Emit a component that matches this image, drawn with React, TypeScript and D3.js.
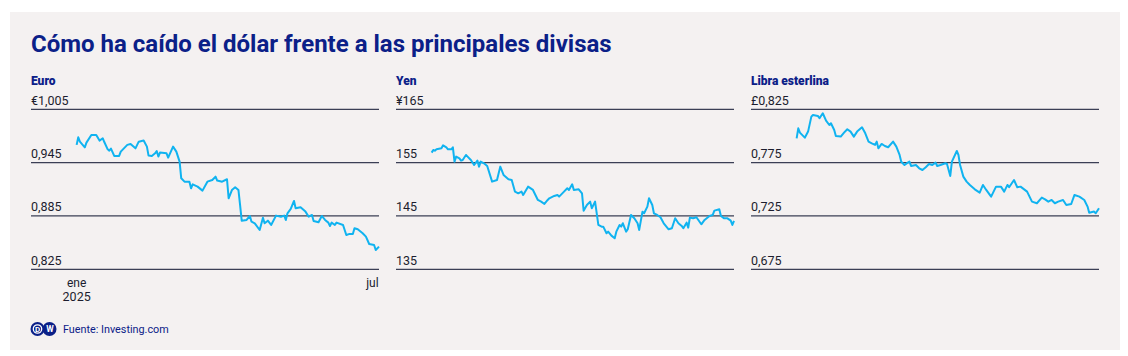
import React from "react";
import * as d3 from "d3";

const W = 1128;
const H = 356;

const titleText = "Cómo ha caído el dólar frente a las principales divisas";
const sourceText = "Fuente: Investing.com";

const panelNames = ["Euro", "Yen", "Libra esterlina"];
const panelLefts = [31, 396, 751];
const panelRights = [379, 734, 1099];

const euroTicks = [0.825, 0.885, 0.945, 1.005];
const yenTicks = [135, 145, 155, 165];
const gbpTicks = [0.675, 0.725, 0.775, 0.825];

const euroTickLabels = ["0,825", "0,885", "0,945", "€1,005"];
const yenTickLabels = ["135", "145", "155", "¥165"];
const gbpTickLabels = ["0,675", "0,725", "0,775", "£0,825"];

// days since 1 Jan 2025
const euroDays = [0, 1, 2, 5, 6, 9, 12, 14, 16, 17, 19, 20, 21, 23, 26, 27, 31, 33, 36, 38, 41, 43, 44, 46, 48, 49, 50, 51, 55, 56, 59, 61, 63, 64, 66, 69, 70, 71, 74, 77, 80, 83, 85, 86, 89, 92, 93, 95, 97, 99, 100, 101, 104, 106, 107, 109, 112, 114, 115, 117, 119, 122, 125, 127, 128, 129, 131, 133, 134, 137, 140, 142, 144, 145, 148, 150, 152, 154, 155, 156, 158, 159, 163, 165, 167, 169, 170, 172, 175, 177, 179, 182, 183, 185];
const euroValues = [0.965, 0.9735, 0.9686, 0.9622, 0.9675, 0.9761, 0.9761, 0.9698, 0.9724, 0.9679, 0.96, 0.9585, 0.9608, 0.9525, 0.9525, 0.9574, 0.965, 0.966, 0.9611, 0.9686, 0.9698, 0.963, 0.9529, 0.9525, 0.9555, 0.9581, 0.9518, 0.9563, 0.9555, 0.9506, 0.963, 0.9574, 0.9461, 0.9274, 0.9236, 0.9236, 0.9161, 0.9206, 0.918, 0.9135, 0.9236, 0.9255, 0.9292, 0.9248, 0.9236, 0.9263, 0.9049, 0.9142, 0.9172, 0.9142, 0.8974, 0.8797, 0.8805, 0.885, 0.8786, 0.8767, 0.8692, 0.8831, 0.8767, 0.8797, 0.8749, 0.8854, 0.8842, 0.8854, 0.8805, 0.888, 0.8929, 0.9019, 0.8936, 0.8948, 0.8899, 0.8842, 0.8861, 0.8794, 0.8779, 0.885, 0.8805, 0.8775, 0.8737, 0.8775, 0.8749, 0.8775, 0.8749, 0.8636, 0.8648, 0.8648, 0.8711, 0.87, 0.8655, 0.8617, 0.8535, 0.8524, 0.8467, 0.8505];

const yenDays = [0, 1, 2, 3, 6, 7, 9, 10, 12, 13, 14, 15, 17, 18, 19, 21, 22, 24, 26, 28, 29, 30, 32, 34, 37, 40, 42, 44, 47, 49, 51, 53, 55, 56, 59, 62, 65, 67, 69, 71, 72, 75, 77, 78, 81, 83, 84, 86, 87, 90, 92, 93, 95, 97, 98, 100, 102, 104, 105, 107, 108, 110, 112, 113, 115, 116, 117, 119, 120, 122, 124, 126, 127, 129, 130, 132, 133, 135, 136, 138, 140, 142, 144, 145, 147, 149, 151, 153, 154, 156, 157, 158, 160, 162, 165, 167, 170, 172, 173, 176, 177, 179, 181, 183, 184, 185];
const yenValues = [156.88, 157.38, 157.25, 157.5, 157.69, 158.25, 157.88, 157.5, 157.5, 157.88, 155.19, 156.13, 155.81, 155.38, 155.5, 156.44, 156.13, 155.5, 154.56, 155.38, 154.25, 155.19, 154.88, 154.38, 151.44, 151.75, 154.25, 152.69, 151.88, 151.75, 149.56, 149.25, 149.56, 148.94, 150.5, 149.88, 148.0, 147.69, 147.25, 148.0, 148.31, 148.75, 148.94, 148.63, 149.56, 150.19, 149.88, 150.94, 149.88, 150.0, 149.25, 146.0, 147.06, 147.69, 146.44, 147.69, 143.31, 143.0, 143.0, 141.75, 142.06, 141.31, 140.81, 142.06, 143.31, 143.0, 143.63, 142.06, 142.5, 145.19, 144.56, 143.63, 142.38, 145.81, 145.5, 146.75, 148.31, 147.06, 145.5, 145.19, 144.75, 143.63, 142.88, 142.5, 142.69, 144.56, 143.63, 143.13, 142.69, 143.75, 142.81, 144.69, 144.56, 144.75, 143.44, 144.25, 145.0, 145.19, 146.0, 146.25, 145.0, 144.56, 144.56, 144.13, 143.31, 144.06];

const gbpDays = [0, 1, 2, 5, 7, 9, 10, 13, 14, 16, 18, 20, 21, 23, 24, 27, 29, 31, 33, 35, 37, 40, 42, 44, 46, 48, 49, 50, 52, 54, 56, 59, 61, 63, 64, 66, 68, 69, 70, 73, 75, 77, 79, 81, 83, 85, 86, 88, 91, 92, 94, 95, 98, 99, 100, 102, 104, 106, 109, 112, 114, 116, 119, 122, 125, 127, 129, 130, 133, 135, 137, 141, 144, 147, 150, 152, 154, 156, 158, 160, 163, 165, 168, 170, 173, 176, 178, 179, 182, 183, 185];
const gbpValues = [0.7978, 0.8072, 0.8031, 0.7984, 0.8041, 0.8181, 0.8197, 0.8188, 0.8166, 0.8213, 0.8144, 0.8103, 0.8119, 0.8056, 0.8, 0.7994, 0.8031, 0.8063, 0.8041, 0.7994, 0.8041, 0.8081, 0.8025, 0.7947, 0.7931, 0.7916, 0.7947, 0.7884, 0.7925, 0.7906, 0.7894, 0.7947, 0.79, 0.7822, 0.7759, 0.7728, 0.775, 0.7759, 0.7719, 0.7728, 0.7697, 0.7681, 0.7706, 0.7737, 0.7728, 0.775, 0.7719, 0.7728, 0.7744, 0.7737, 0.7625, 0.7759, 0.7859, 0.7822, 0.7728, 0.7619, 0.7572, 0.7541, 0.75, 0.7469, 0.7541, 0.7494, 0.7431, 0.7525, 0.7525, 0.7478, 0.7541, 0.7519, 0.7587, 0.7519, 0.7525, 0.7478, 0.7384, 0.7369, 0.7422, 0.7406, 0.7384, 0.74, 0.7369, 0.7384, 0.74, 0.7353, 0.7362, 0.7447, 0.7431, 0.74, 0.7338, 0.7281, 0.7291, 0.7275, 0.7322];

const xTickDates = ["2025-01-01", "2025-07-01"];
const xTickLine1 = ["ene", "jul"];
const xTickLine2 = ["2025", ""];

const NAVY = "#0b2088";
const LINE = "#10b3f0";
const GRID = "#3b3f55";
const TEXT = "#1c1d2e";
const FONT = "Roboto, 'DejaVu Sans', sans-serif";

const base = new Date(2025, 0, 1);
const toDate = (d: number) => d3.timeDay.offset(base, d);
const parseDay = d3.timeParse("%Y-%m-%d");

const PLOT_W = 304;
const yScaleRange: [number, number] = [269.3, 109.3];

function Panel({ idx, days, values, ticks, tickLabels, showX }: any) {
  const left = panelLefts[idx];
  const right = panelRights[idx];
  const plotStart = right - PLOT_W;
  const x = d3
    .scaleTime()
    .domain([new Date(2024, 11, 31), new Date(2025, 6, 5)])
    .range([plotStart, right]);
  const y = d3
    .scaleLinear()
    .domain([ticks[0], ticks[ticks.length - 1]])
    .range(yScaleRange);
  const pts = days.map((d: number, i: number) => [toDate(d), values[i]] as [Date, number]);
  const line = d3
    .line<[Date, number]>()
    .x((d) => x(d[0]))
    .y((d) => y(d[1]));
  return (
    <g>
      <text x={left} y={85} fill={NAVY} fontFamily={FONT} fontWeight={900} fontSize={12}>
        {panelNames[idx]}
      </text>
      {ticks.map((t: number, i: number) => (
        <g key={t}>
          <line x1={left} x2={right} y1={y(t)} y2={y(t)} stroke={GRID} strokeWidth={1.2} />
          <text x={left} y={y(t) - 4.5} fill={TEXT} fontFamily={FONT} fontSize={12.5}>
            {tickLabels[i]}
          </text>
        </g>
      ))}
      <path d={line(pts) || ""} fill="none" stroke={LINE} strokeWidth={2} strokeLinejoin="round" />
      {showX &&
        xTickDates.map((s, i) => {
          const xv = x(parseDay(s) as Date);
          return (
            <g key={s}>
              <text x={xv} y={287} textAnchor="middle" fill={TEXT} fontFamily={FONT} fontSize={12}>
                {xTickLine1[i]}
              </text>
              <text x={xv} y={301} textAnchor="middle" fill={TEXT} fontFamily={FONT} fontSize={12.5}>
                {xTickLine2[i]}
              </text>
            </g>
          );
        })}
    </g>
  );
}

export default function App() {
  return (
    <svg
      width={W}
      height={H}
      style={{ position: "absolute", left: 0, top: 0, display: "block" }}
    >
      <rect x={0} y={0} width={W} height={H} fill="#ffffff" />
      <rect x={10} y={12} width={1110} height={338} fill="#f4f1f1" />
      <text x={31} y={52} fill={NAVY} fontFamily={FONT} fontWeight={700} fontSize={24}>
        {titleText}
      </text>
      <Panel idx={0} days={euroDays} values={euroValues} ticks={euroTicks} tickLabels={euroTickLabels} showX={true} />
      <Panel idx={1} days={yenDays} values={yenValues} ticks={yenTicks} tickLabels={yenTickLabels} showX={false} />
      <Panel idx={2} days={gbpDays} values={gbpValues} ticks={gbpTicks} tickLabels={gbpTickLabels} showX={false} />
      <g>
        <circle cx={37.5} cy={329} r={7} fill={NAVY} />
        <circle cx={49.5} cy={329} r={7} fill={NAVY} />
        <circle cx={37.5} cy={329} r={4.2} fill="none" stroke="#ffffff" strokeWidth={1.3} />
        <text x={37.5} y={332.3} textAnchor="middle" fill="#ffffff" fontFamily={FONT} fontWeight={700} fontSize={8}>D</text>
        <text x={50} y={332.3} textAnchor="middle" fill="#ffffff" fontFamily={FONT} fontWeight={700} fontSize={8.5}>W</text>
      </g>
      <text x={63} y={333} fill={NAVY} fontFamily={FONT} fontSize={10.8}>
        {sourceText}
      </text>
    </svg>
  );
}
